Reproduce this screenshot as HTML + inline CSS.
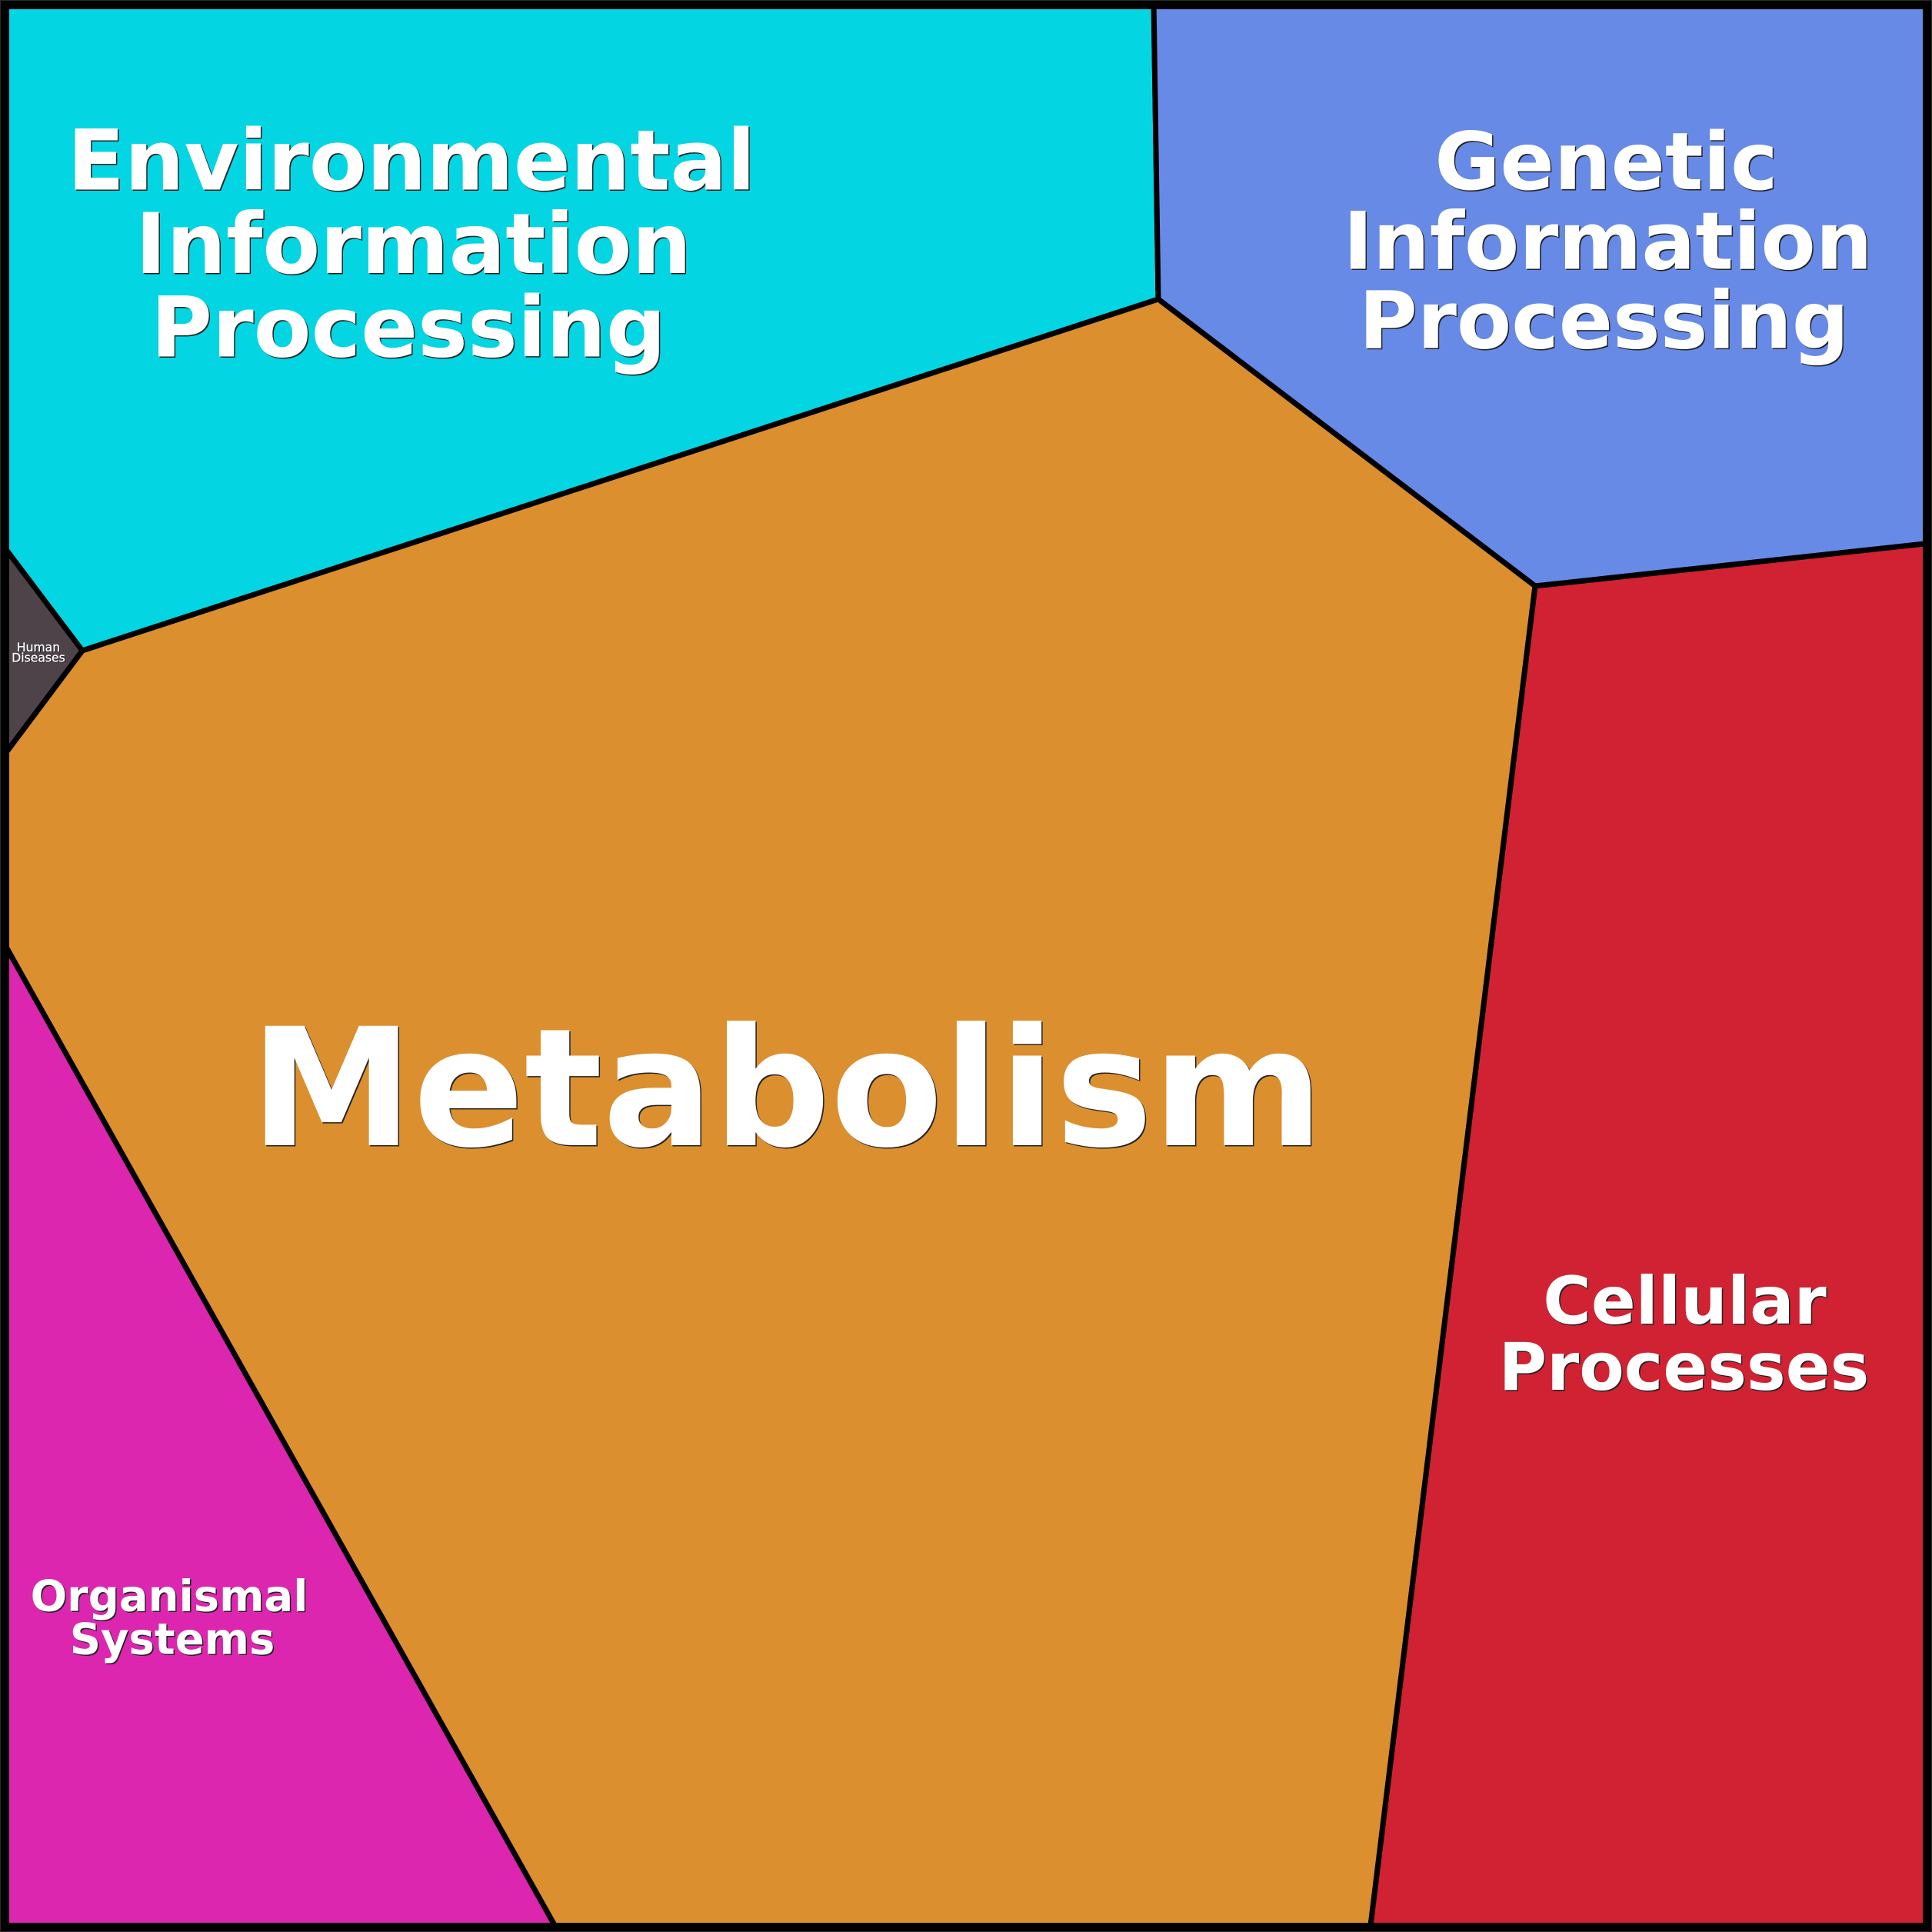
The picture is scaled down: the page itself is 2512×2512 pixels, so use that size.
<!DOCTYPE html>
<html><head><meta charset="utf-8"><style>
html,body{margin:0;padding:0;background:#000}
svg{display:block}
text{font-family:"DejaVu Sans",sans-serif;font-weight:bold;text-anchor:middle;fill:#fff;stroke:none}
.s{fill:#222}
.r{font-weight:normal;stroke:#fff;stroke-width:.3}
.s.r{stroke:#222}
</style></head><body>
<svg width="2512" height="2512" viewBox="0 0 2512 2512" xmlns="http://www.w3.org/2000/svg">
<rect width="2512" height="2512" fill="#000"/>
<g stroke="#000" stroke-width="7" stroke-linejoin="miter">
<polygon points="0,0 1500,0 1506,389 107,846 0,704" fill="#04D5E2"/>
<polygon points="1500,0 2512,0 2512,706 1996,762 1506,389" fill="#668AE6"/>
<polygon points="1506,389 1996,762 1781,2512 726,2512 0,1217 0,989 107,846" fill="#DB8F2E"/>
<polygon points="1996,762 2512,706 2512,2512 1781,2512" fill="#D02232"/>
<polygon points="0,1217 726,2512 0,2512" fill="#DC26AF"/>
<polygon points="0,704 107,846 0,989" fill="#4F434A"/>
</g>
<rect x="6" y="6" width="2500" height="2500" fill="none" stroke="#000" stroke-width="12"/>
<rect x=".5" y=".5" width="2511" height="2511" fill="none" stroke="#2a2a2a" stroke-width="1"/>
<g font-size="109">
<text class="s" x="536.500" y="248">Environmental</text><text class="s" x="539" y="356.500">Information</text><text class="s" x="532.500" y="465">Processing</text>
<text x="535" y="246.500">Environmental</text><text x="537.500" y="355">Information</text><text x="531" y="463.500">Processing</text>
</g>
<g font-size="103.700">
<text class="s" x="2090" y="247.500">Genetic</text><text class="s" x="2092" y="351">Information</text><text class="s" x="2087" y="454">Processing</text>
<text x="2088.500" y="246">Genetic</text><text x="2090.500" y="349.500">Information</text><text x="2085.500" y="452.500">Processing</text>
</g>
<g font-size="213">
<text class="s" x="1024.500" y="1490.500">Metabolism</text>
<text x="1023" y="1489">Metabolism</text>
</g>
<g font-size="85.300">
<text class="s" x="2192" y="1722.500">Cellular</text><text class="s" x="2191" y="1808.500">Processes</text>
<text x="2190.500" y="1721">Cellular</text><text x="2189.500" y="1807">Processes</text>
</g>
<g font-size="56">
<text class="s" x="221.500" y="2096">Organismal</text><text class="s" x="225.500" y="2152">Systems</text>
<text x="220" y="2094.500">Organismal</text><text x="224" y="2150.500">Systems</text>
</g>
<g font-size="15.600">
<text class="s r" x="51" y="848">Human</text><text class="s r" x="51" y="861.500">Diseases</text>
<text class="r" x="50" y="847">Human</text><text class="r" x="50" y="860.500">Diseases</text>
</g>
</svg>
</body></html>
